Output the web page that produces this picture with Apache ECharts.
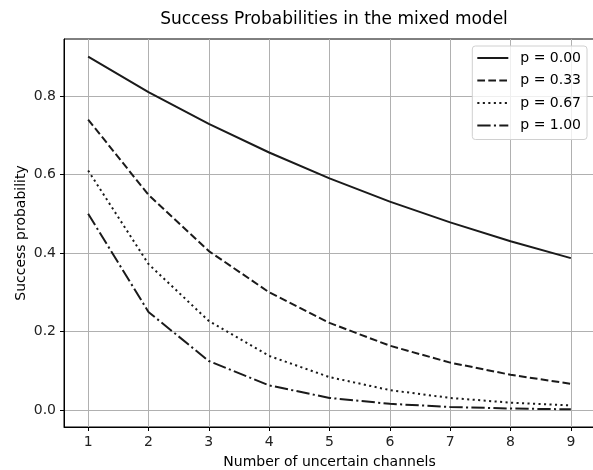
<!DOCTYPE html>
<html><head><meta charset="utf-8">
<script src="https://cdn.jsdelivr.net/npm/echarts@6/dist/echarts.min.js"></script>
<style>html,body{margin:0;padding:0;background:#fff}#c{width:593px;height:470px}</style>
</head><body><div id="c"></div>
<script>
const channels = [1,2,3,4,5,6,7,8,9];
const p000 = [0.900,0.810,0.729,0.656,0.590,0.531,0.478,0.430,0.387];
const p033 = [0.740,0.548,0.405,0.300,0.222,0.164,0.121,0.090,0.067];
const p067 = [0.610,0.372,0.227,0.138,0.084,0.051,0.031,0.019,0.012];
const p100 = [0.500,0.250,0.125,0.063,0.031,0.016,0.008,0.004,0.002];
const xTicks = [1,2,3,4,5,6,7,8,9];
const yTicks = [0.0,0.2,0.4,0.6,0.8];
const names = ['p = 0.00','p = 0.33','p = 0.67','p = 1.00'];
const FONT = 'DejaVu Sans';
const dashes = ['solid',[7.7,3.3],[2.1,3.4],[13.3,3.3,2.1,3.3]];
const all = [p000,p033,p067,p100];
const chart = echarts.init(document.getElementById('c'), null, {renderer:'canvas'});
chart.setOption({
  animation:false,
  title:{text:'Success Probabilities in the mixed model',left:329,top:6,textAlign:'center',
    textStyle:{fontFamily:FONT,fontSize:17,fontWeight:'normal',color:'#000'}},
  legend:{right:6,top:46,orient:'vertical',itemWidth:31,itemHeight:14,itemGap:8.5,
    backgroundColor:'rgba(255,255,255,0.8)',borderColor:'#d0d0d0',borderWidth:1,borderRadius:3,padding:[5,6,7,4],
    textStyle:{fontFamily:FONT,fontSize:14,color:'#000',padding:[0,0,0,7]},
    itemStyle:{opacity:0,borderWidth:0},
    data:names},
  grid:{left:64,right:-2,top:39,bottom:43,containLabel:false,outerBoundsMode:'none',show:true,borderColor:'#000',borderWidth:1},
  xAxis:{type:'value',min:0.6,max:9.4,name:'Number of uncertain channels',nameLocation:'middle',nameGap:28,nameMoveOverlap:false,
    nameTextStyle:{fontFamily:FONT,fontSize:14,color:'#000'},
    axisLine:{show:true,onZero:false,lineStyle:{color:'#000',width:1}},
    axisTick:{show:true,length:4,customValues:xTicks,lineStyle:{color:'#000'}},
    axisLabel:{customValues:xTicks,fontFamily:FONT,fontSize:14,color:'#222',margin:8},
    splitLine:{show:true,lineStyle:{color:'#b0b0b0',width:1}}},
  yAxis:{type:'value',min:-0.043,max:0.945,name:'Success probability',nameLocation:'middle',nameGap:36,nameMoveOverlap:false,
    nameTextStyle:{fontFamily:FONT,fontSize:14,color:'#000'},
    axisLine:{show:true,onZero:false,lineStyle:{color:'#000',width:1}},
    axisTick:{show:true,length:4,customValues:yTicks,lineStyle:{color:'#000'}},
    axisLabel:{customValues:yTicks,fontFamily:FONT,fontSize:14,color:'#222',margin:8,formatter:v=>v.toFixed(1)},
    splitLine:{show:true,lineStyle:{color:'#b0b0b0',width:1}}},
  series: all.map((d,i)=>({
    name:names[i],type:'line',showSymbol:false,symbol:'none',
    data:channels.map((x,j)=>[x,d[j]]),
    lineStyle:{color:'#1a1a1a',width:2,type:dashes[i]},
    itemStyle:{color:'#1a1a1a'}
  }))
});
</script></body></html>
